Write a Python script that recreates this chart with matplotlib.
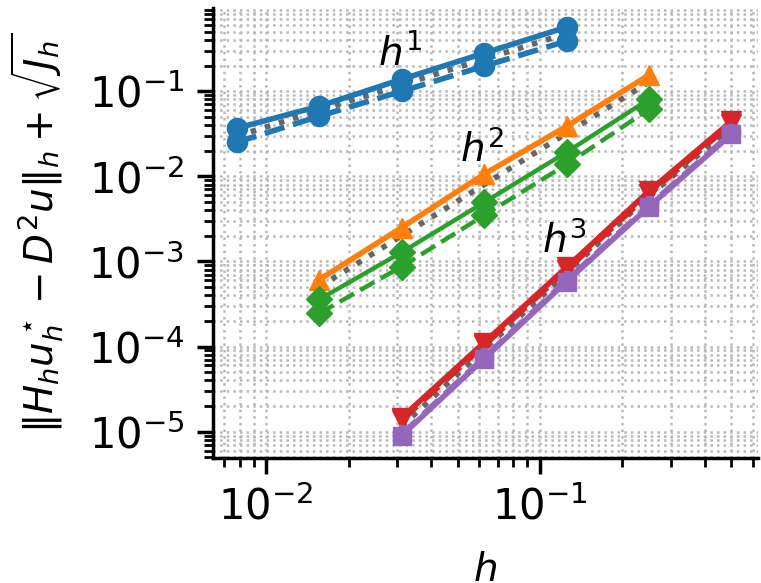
import numpy as np
import matplotlib
matplotlib.use("Agg")
import matplotlib.pyplot as plt
from matplotlib.ticker import LogLocator

# mesh sizes
h_1 = [1/128, 1/64, 1/32, 1/16, 1/8]
h_2 = [1/64, 1/32, 1/16, 1/8, 1/4]
h_3 = [1/32, 1/16, 1/8, 1/4, 1/2]

# k = 1
blue_solid = [0.0367, 0.0667, 0.138, 0.28, 0.566]
blue_dash = [0.0251, 0.0508, 0.100, 0.197, 0.388]
ref_1 = [0.0297, 0.0594, 0.119, 0.238, 0.475]

# k = 2
orange_solid = [6.1e-4, 2.5e-3, 0.0106, 0.0387, 0.155]
green_solid = [3.57e-4, 1.28e-3, 4.94e-3, 0.0192, 0.0805]
green_dash = [2.45e-4, 8.7e-4, 3.48e-3, 0.0138, 0.0614]
ref_2 = [5.0e-4, 2.0e-3, 8.0e-3, 0.032, 0.128]

# k = 3
red_solid = [1.46e-5, 1.11e-4, 8.5e-4, 6.7e-3, 0.0444]
red_dash = [1.36e-5, 1.03e-4, 7.9e-4, 6.2e-3, 0.0415]
purple_solid = [8.97e-6, 7.2e-5, 5.8e-4, 4.4e-3, 0.0312]
purple_dash = [9.3e-6, 7.45e-5, 6.0e-4, 4.55e-3, 0.0322]
ref_3 = [1.15e-5, 9.2e-5, 7.3e-4, 5.9e-3, 0.0375]

# slope labels: (h, value, text)
slopes = [(0.0308, 0.165, r'$h^1$'),
          (0.0615, 0.0118, r'$h^2$'),
          (0.123, 0.00102, r'$h^3$')]

plt.rcParams['font.size'] = 30
plt.rcParams['mathtext.fontset'] = 'dejavusans'

fig = plt.figure(figsize=(7.61, 5.83), dpi=100)
ax = fig.add_axes([213/761, 125/583, 545/761, 450/583])

lw = 4
ms = 14.5
ax.plot(h_1, ref_1, ':', color='0.4', lw=lw, zorder=3)
ax.plot(h_1, blue_solid, '-o', color='C0', lw=lw, ms=ms, zorder=4)
ax.plot(h_1, blue_dash, '--o', color='C0', lw=lw, ms=ms, zorder=4)

ax.plot(h_2, ref_2, ':', color='0.4', lw=lw, zorder=3)
ax.plot(h_2, orange_solid, '-^', color='C1', lw=lw, ms=ms, zorder=4)
ax.plot(h_2, green_solid, '-D', color='C2', lw=lw*0.8, ms=ms*0.9, zorder=4)
ax.plot(h_2, green_dash, '--D', color='C2', lw=lw*0.8, ms=ms*0.9, zorder=4)

ax.plot(h_3, ref_3, ':', color='0.4', lw=lw, zorder=3)
ax.plot(h_3, red_solid, '-v', color='C3', lw=lw, ms=ms, zorder=4)
ax.plot(h_3, red_dash, '--v', color='C3', lw=lw, ms=ms, zorder=4)
ax.plot(h_3, purple_solid, '-s', color='C4', lw=lw, ms=ms*0.85, zorder=5)
ax.plot(h_3, purple_dash, '--P', color='C4', lw=lw, ms=ms*0.85, zorder=5)

for x, y, s in slopes:
    ax.text(x, y, s, ha='center', va='bottom', fontsize=28, zorder=6)

ax.set_xscale('log')
ax.set_yscale('log')
ax.set_xlim(0.0064, 0.625)
ax.set_ylim(4.9e-6, 0.95)

ax.yaxis.set_major_locator(LogLocator(base=10, numticks=20))
ax.yaxis.set_minor_locator(LogLocator(base=10, subs=np.arange(2, 10), numticks=20))

ax.grid(True, which='both', ls=':', color='0.72', lw=1.8)
ax.spines['top'].set_visible(False)
ax.spines['right'].set_visible(False)
for s in ['left', 'bottom']:
    ax.spines[s].set_linewidth(2.5)
ax.tick_params(which='major', length=11.5, width=2.5, pad=9)
ax.tick_params(which='minor', length=6.5, width=2)

ax.set_xlabel(r'$h$', fontsize=28, labelpad=16)
ax.set_ylabel(r'$\|H_h u_h^\star - D^2 u\|_h + \sqrt{J_h}$', fontsize=28, labelpad=16)

fig.savefig('out.png', dpi=100)
